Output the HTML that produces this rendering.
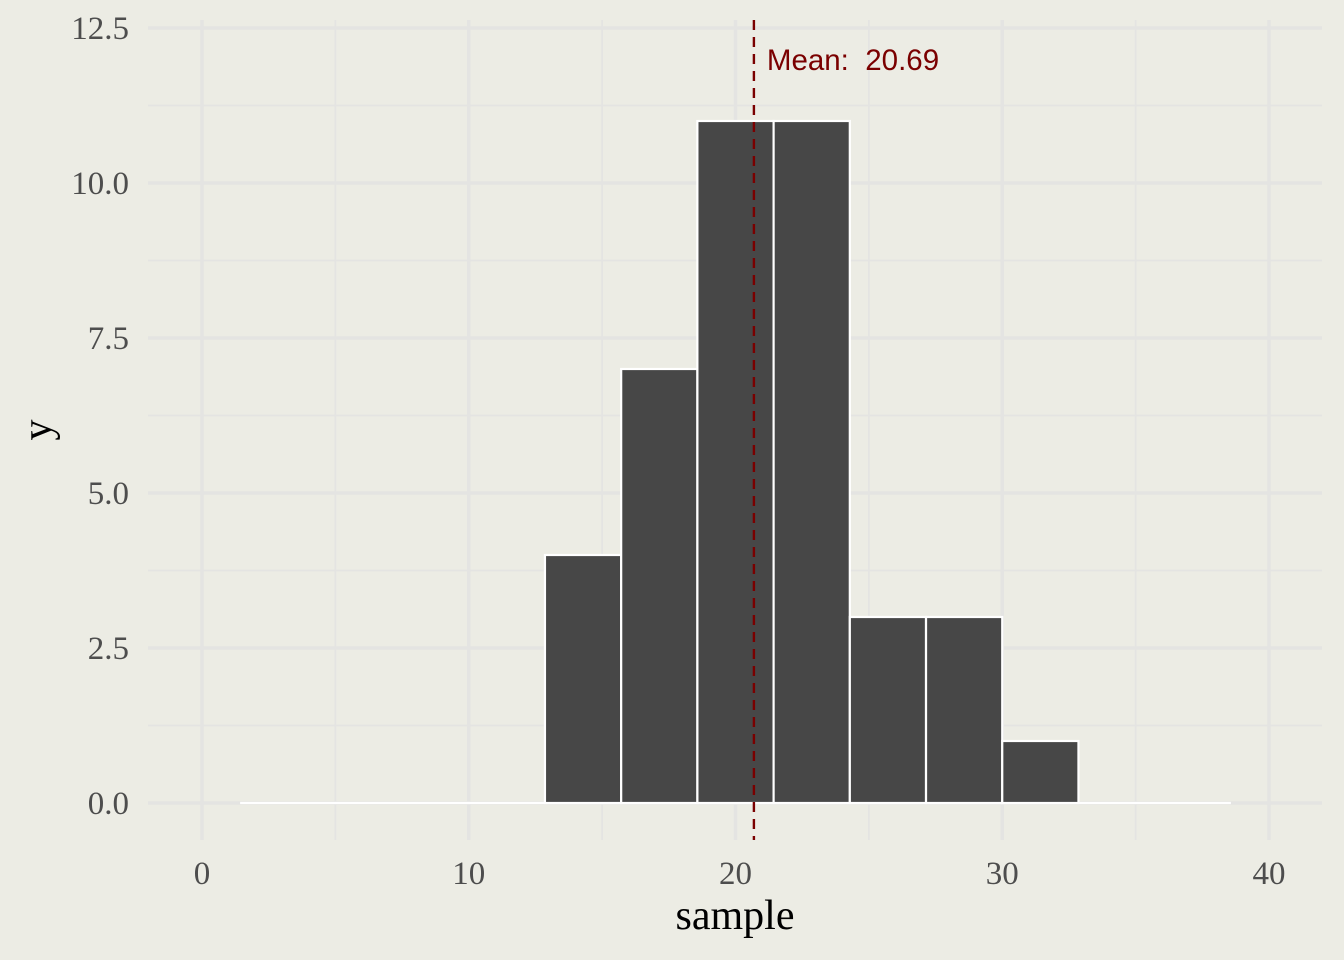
<!DOCTYPE html>
<html><head><meta charset="utf-8"><style>
html,body{margin:0;padding:0;background:#ECECE4;overflow:hidden;width:1344px;height:960px;}
svg{display:block;}
svg text{font-family:"Liberation Serif",serif;}
</style></head><body>
<svg id="chart" width="1344" height="960" xmlns="http://www.w3.org/2000/svg">
<rect x="0" y="0" width="1344" height="960" fill="#ECECE4"/>
<g id="grid"></g><g id="bars"></g><g id="ann"></g><g id="axes"></g>
</svg>
<script>
const binStart = 1.4286;
const binWidth = 2.8571;
const counts = [0,0,0,0,4,7,11,11,3,3,1,0,0];
const meanValue = 20.69;
const xTicks = [0,10,20,30,40];
const yTicks = [0,2.5,5,7.5,10,12.5];
const yTickLabels = ["0.0","2.5","5.0","7.5","10.0","12.5"];

const NS="http://www.w3.org/2000/svg";
const X=v=>202+v*(1269-202)/40;
const Y=v=>803-v*(803-28)/12.5;
const PL=148,PR=1322,PT=20,PB=840;
function mk(tag,attrs,parent,txt){const e=document.createElementNS(NS,tag);for(const k in attrs)e.setAttribute(k,attrs[k]);if(txt!==undefined)e.textContent=txt;document.getElementById(parent).appendChild(e);return e;}
for(let i=0;i<yTicks.length;i++){
  const v=yTicks[i];
  let e=mk('line',{x1:PL,x2:PR,y1:Y(v),y2:Y(v),stroke:'#E4E4E2','stroke-width':3.5},'grid');
  
  
  if(i<yTicks.length-1){const m=(v+yTicks[i+1])/2;
    e=mk('line',{x1:PL,x2:PR,y1:Y(m),y2:Y(m),stroke:'#E4E4E2','stroke-width':1.8},'grid');
    
    }
}
for(let i=0;i<xTicks.length;i++){
  const v=xTicks[i];
  let e=mk('line',{x1:X(v),x2:X(v),y1:PT,y2:PB,stroke:'#E4E4E2','stroke-width':3.5},'grid');
  
  
  if(i<xTicks.length-1){const m=(v+xTicks[i+1])/2;
    e=mk('line',{x1:X(m),x2:X(m),y1:PT,y2:PB,stroke:'#E4E4E2','stroke-width':1.8},'grid');
    
    }
}
let base=mk('line',{x1:X(binStart),x2:X(binStart+counts.length*binWidth),y1:Y(0),y2:Y(0),stroke:'#FFFFFF','stroke-width':2.2},'bars');


for(let i=0;i<counts.length;i++){
  if(counts[i]===0) continue;
  const x0=X(binStart+i*binWidth),x1=X(binStart+(i+1)*binWidth);
  const h=Y(0)-Y(counts[i]);
  const r=mk('rect',{x:x0,y:Y(counts[i]),width:x1-x0,height:h,fill:'#474747',stroke:'#FFFFFF','stroke-width':2.2},'bars');
  
  
}
let ml=mk('line',{x1:X(meanValue),x2:X(meanValue),y1:PT,y2:PB,stroke:'#7A0000','stroke-width':2.4,'stroke-dasharray':'10,7'},'ann');


let mt=mk('text',{x:X(meanValue)+13,y:70,fill:'#7A0000','font-size':29.5,style:'font-family:"Liberation Sans",sans-serif;white-space:pre'},'ann','Mean:  '+meanValue.toFixed(2));


for(let i=0;i<yTicks.length;i++){
  const t=mk('text',{x:129,y:Y(yTicks[i])+11,'text-anchor':'end',fill:'#4D4D4D','font-size':33},'axes',yTickLabels[i]);
  
  
}
for(const v of xTicks){
  const t=mk('text',{x:X(v),y:884,'text-anchor':'middle',fill:'#4D4D4D','font-size':33},'axes',String(v));
  
  
}
let xt=mk('text',{x:735,y:929,'text-anchor':'middle',fill:'#000','font-size':42},'axes','sample');


let yt=mk('text',{x:0,y:0,'text-anchor':'middle',fill:'#000','font-size':42,transform:'translate(51,430) rotate(-90)'},'axes','y');


</script>
</body></html>
